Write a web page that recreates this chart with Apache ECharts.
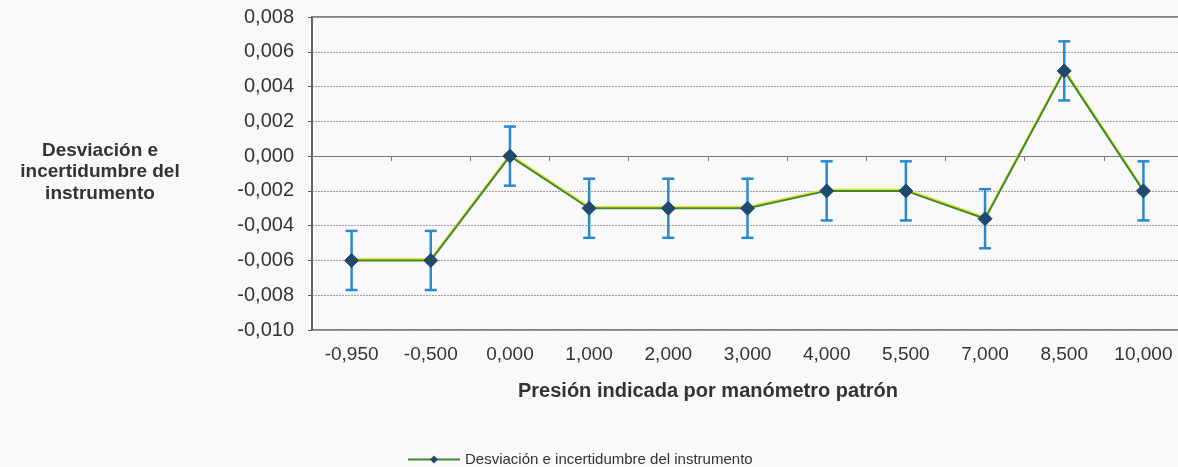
<!DOCTYPE html>
<html><head><meta charset="utf-8">
<script src="https://cdn.jsdelivr.net/npm/echarts@6/dist/echarts.min.js"></script>
<style>html,body{margin:0;padding:0;background:#f9f9fb;overflow:hidden}#c{width:1184px;height:467px}</style>
</head><body><div id="c"></div>
<script>
const categories = ['-0,950','-0,500','0,000','1,000','2,000','3,000','4,000','5,500','7,000','8,500','10,000'];
const deviation = [-0.0060,-0.0060,0.0000,-0.0030,-0.0030,-0.0030,-0.0020,-0.0020,-0.0036,0.0049,-0.0020];
const uncertainty = [0.0017,0.0017,0.0017,0.0017,0.0017,0.0017,0.0017,0.0017,0.0017,0.0017,0.0017];
const seriesName = 'Desviación e incertidumbre del instrumento';
const xTitle = 'Presión indicada por manómetro patrón';
const yTitle = 'Desviación e\nincertidumbre del\ninstrumento';

const errData = deviation.map((v,i)=>[i, v-uncertainty[i], v+uncertainty[i]]);
const chart = echarts.init(document.getElementById('c'));
chart.setOption({
  backgroundColor:'#f9f9fb',
  animation:false,
  grid:{left:312,width:871,top:17,bottom:137,show:true,borderColor:'#5a5a5a',borderWidth:1.5,backgroundColor:'transparent'},
  legend:{top:447,left:402,itemWidth:52,itemHeight:10,itemGap:6,data:[seriesName],
    textStyle:{fontFamily:'Liberation Sans',fontSize:15,color:'#333'}},
  graphic:[{type:'text',x:100,y:140,style:{text:yTitle,
    font:'bold 19px "Liberation Sans"',fill:'#333',textAlign:'center',lineHeight:21.5}},
    {type:'text',x:708,y:391,style:{text:xTitle,font:'bold 20px "Liberation Sans"',fill:'#333',
    textAlign:'center',textVerticalAlign:'middle'}}],
  xAxis:[{type:'category',data:categories,boundaryGap:true,
    axisLine:{onZero:true,lineStyle:{color:'#777',width:1}},
    axisTick:{show:true,length:5,inside:false,lineStyle:{color:'#777'}},axisLabel:{show:false}},
   {type:'category',data:categories,boundaryGap:true,position:'bottom',
    axisLine:{show:false,onZero:false},axisTick:{show:false},
    axisLabel:{fontFamily:'Liberation Sans',fontSize:19,color:'#333',margin:15,interval:0,hideOverlap:false}}],
  yAxis:{type:'value',min:-0.010,max:0.008,interval:0.002,
    axisLine:{show:true,lineStyle:{color:'#5a5a5a',width:1.5}},axisTick:{show:true,length:4,lineStyle:{color:'#5a5a5a'}},
    splitLine:{lineStyle:{color:'#a0a0a0',type:[2,1],width:1}},
    axisLabel:{fontFamily:'Liberation Sans',fontSize:20,color:'#333',margin:18,
      formatter:v=>v.toFixed(3).replace('.',',').replace(/^-0,000$/,'0,000')}},
  series:[
   {name:seriesName,type:'line',xAxisIndex:0,data:deviation,symbol:'diamond',symbolSize:14,
    itemStyle:{color:'#1f4a6e',borderColor:'#1f4a6e'},
    lineStyle:{color:'#418a2c',width:2,shadowColor:'#e6e23a',shadowOffsetY:-1.5,shadowBlur:0},z:3},
   {type:'custom',xAxisIndex:0,data:errData,z:2,silent:true,
    renderItem:(params,api)=>{
      const i=api.value(0);const lo=api.coord([i,api.value(1)]);const hi=api.coord([i,api.value(2)]);
      const cw=6;const st={stroke:'#2a88cc',lineWidth:2.5};
      return {type:'group',children:[
        {type:'line',shape:{x1:lo[0],y1:lo[1],x2:hi[0],y2:hi[1]},style:st},
        {type:'line',shape:{x1:lo[0]-cw,y1:lo[1],x2:lo[0]+cw,y2:lo[1]},style:st},
        {type:'line',shape:{x1:hi[0]-cw,y1:hi[1],x2:hi[0]+cw,y2:hi[1]},style:st}]};
    }}
  ]
});
</script></body></html>
